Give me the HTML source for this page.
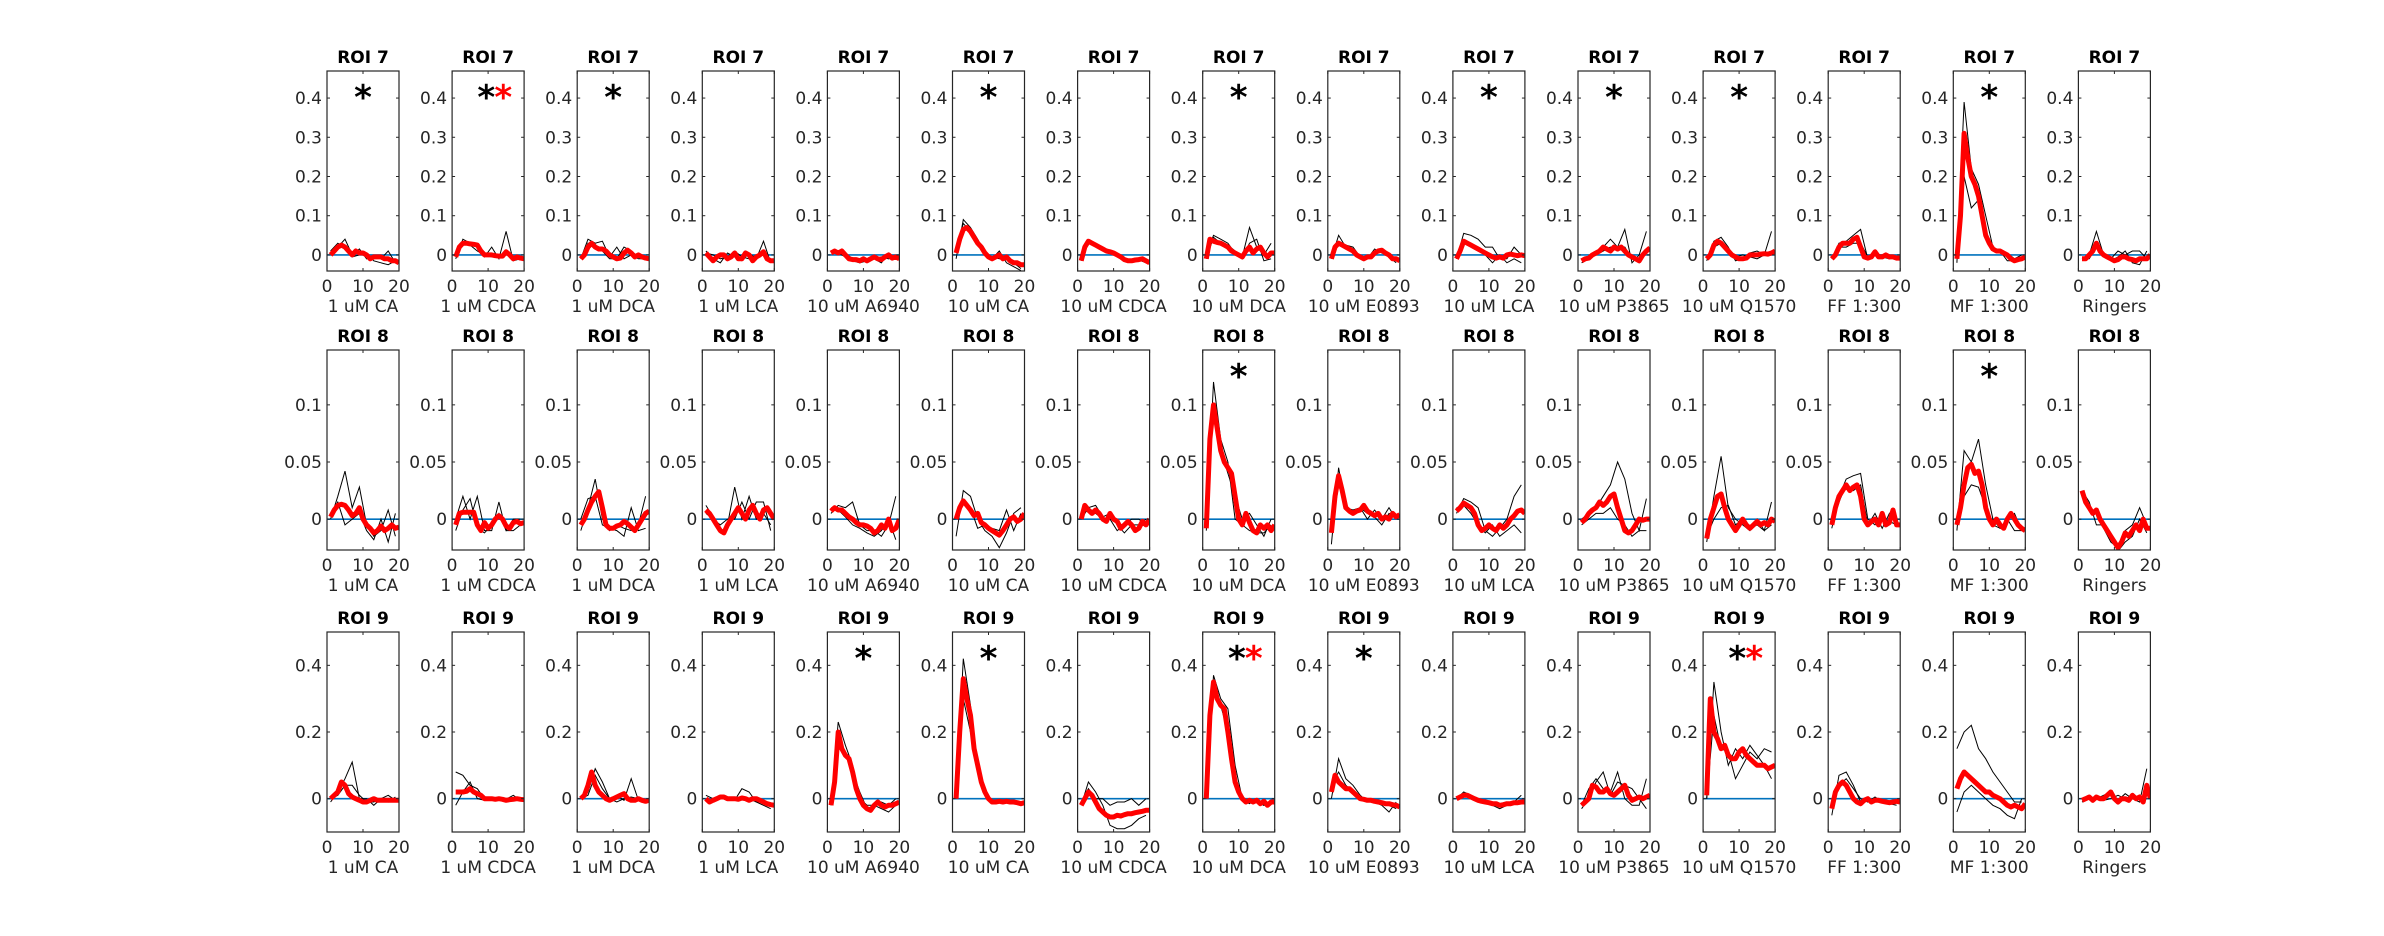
<!DOCTYPE html>
<html><head><meta charset="utf-8"><style>
html,body{margin:0;padding:0;background:#fff;}
svg{display:block;font-family:"DejaVu Sans","Liberation Sans",sans-serif;}
</style></head><body>
<svg id="fig" width="2384" height="936" viewBox="0 0 2384 936" xmlns="http://www.w3.org/2000/svg"></svg>
<script>
const conditions = ["1 uM CA","1 uM CDCA","1 uM DCA","1 uM LCA","10 uM A6940","10 uM CA","10 uM CDCA","10 uM DCA","10 uM E0893","10 uM LCA","10 uM P3865","10 uM Q1570","FF 1:300","MF 1:300","Ringers"];
const roiNames = ["ROI 7","ROI 8","ROI 9"];
const yTicks = [[0,0.1,0.2,0.3,0.4],[0,0.05,0.1],[0,0.2,0.4]];
const yTickLabels = [["0","0.1","0.2","0.3","0.4"],["0","0.05","0.1"],["0","0.2","0.4"]];
const xTicks = [0,10,20];
const blackStars = [[0,1,2,5,7,9,10,11,13],[7,13],[4,5,7,8,11]];
const redStars = [[1],[],[7,11]];

const redRoi7 = [
[0,.01,.02,.025,.02,.01,0,.01,.005,.005,0,-.01,-.005,-.005,-.005,-.01,-.01,-.015,-.015,-.02],
[-.005,.02,.03,.03,.028,.027,.025,.01,0,0,0,-.002,-.003,-.003,.008,0,-.01,-.005,-.008,-.01],
[-.01,0,.02,.03,.02,.015,.015,.01,0,-.005,-.01,-.008,.005,.012,.005,-.005,0,-.005,-.008,-.01],
[.005,-.005,-.015,-.005,0,0,-.01,-.005,.005,-.01,-.01,.005,0,-.015,-.005,0,.008,-.01,-.015,-.015],
[.005,.01,.005,.01,0,-.01,-.012,-.012,-.015,-.01,-.015,-.01,-.005,-.01,-.012,-.005,0,-.008,-.005,-.01],
[.005,.04,.065,.07,.06,.045,.03,.02,.005,-.005,-.01,-.005,0,-.01,-.005,-.015,-.02,-.02,-.025,-.025],
[-.015,.02,.035,.03,.025,.02,.015,.01,.008,.005,0,-.005,-.012,-.015,-.015,-.013,-.012,-.01,-.015,-.02],
[-.01,.04,.035,.032,.03,.025,.02,.01,.005,0,-.005,.01,.02,.005,.015,.02,.005,-.005,.005,.005],
[-.01,.02,.03,.025,.02,.015,.01,0,-.005,-.01,-.005,-.005,.005,.01,.012,.005,0,-.01,-.01,-.015],
[-.01,.01,.035,.03,.025,.02,.015,.01,.005,0,-.005,-.008,-.005,-.008,0,.002,0,-.002,0,-.002],
[-.015,-.01,-.008,0,.005,.01,.02,.015,.01,.02,.015,.02,.01,0,-.005,-.01,-.015,0,.01,.018],
[-.01,0,.025,.035,.03,.02,.01,0,-.005,-.01,-.01,-.008,0,0,0,.002,.003,.002,.005,.01],
[-.01,0,.02,.03,.03,.03,.04,.045,.02,-.005,-.008,-.005,.008,-.005,-.005,0,-.005,-.005,-.008,-.008],
[-.01,.1,.31,.25,.2,.18,.15,.1,.05,.03,.015,.01,.01,.005,0,-.01,-.015,-.012,-.01,-.005],
[-.01,-.01,0,.01,.03,.01,0,-.005,-.01,-.015,-.012,-.005,-.005,-.01,-.012,-.015,-.01,-.01,-.01,0]];
const redRoi8 = [
[.002,.008,.012,.013,.012,.008,.003,.005,.01,0,-.005,-.008,-.012,-.01,-.006,-.01,-.008,-.005,-.008,-.007],
[-.005,.005,.006,.006,.006,.006,-.005,-.01,-.003,-.008,-.005,0,.003,0,-.006,-.008,-.003,-.002,-.004,-.003],
[-.005,0,.008,.015,.02,.024,.01,-.005,-.008,-.008,-.006,-.005,-.002,-.004,-.007,-.01,-.005,0,.005,.007],
[.008,.005,0,-.005,-.01,-.012,-.005,0,.005,.01,.005,0,.008,.012,.005,0,.008,.01,.005,0],
[.007,.01,.008,.008,.005,.002,0,-.003,-.005,-.005,-.006,-.008,-.012,-.01,-.005,-.008,0,-.01,-.008,0],
[0,.01,.016,.012,.008,.003,.005,-.003,-.005,-.008,-.01,-.012,-.014,-.01,-.005,0,.002,-.002,0,.005],
[0,.012,.008,.005,.008,.005,0,-.002,.005,0,-.002,-.008,-.005,-.002,-.005,-.01,-.008,-.002,-.005,0],
[-.008,.07,.1,.08,.06,.05,.045,.04,.02,0,-.005,.005,-.003,-.01,-.012,-.005,-.008,-.005,-.01,-.005],
[-.012,.02,.038,.025,.01,.007,.005,.007,.008,.012,.007,.005,.003,.005,0,.002,0,.005,.002,.004],
[.007,.01,.014,.012,.01,.005,-.005,-.01,-.008,-.005,-.008,-.01,-.005,-.008,-.005,0,.003,.007,.008,.005],
[-.003,0,.005,.008,.01,.015,.012,.015,.02,.022,.01,0,-.01,-.012,-.01,-.005,0,-.001,0,0],
[-.017,0,.01,.02,.022,.01,0,-.005,-.01,-.005,0,-.005,-.008,-.005,-.002,-.005,-.003,-.005,0,-.002],
[-.005,.01,.02,.025,.03,.025,.028,.03,.02,0,-.005,-.002,0,-.005,.005,-.005,-.003,.008,-.005,-.005],
[-.005,.01,.03,.045,.048,.04,.042,.03,.01,0,-.005,0,-.005,-.008,0,.005,0,-.005,-.008,-.01],
[.025,.015,.01,.005,.008,0,-.005,-.01,-.015,-.02,-.025,-.02,-.012,-.015,-.01,-.005,-.01,0,-.008,-.008]];
const redRoi9 = [
[0,.01,.02,.05,.04,.015,.005,0,-.005,-.01,-.01,-.005,0,-.005,-.005,-.005,-.005,-.005,-.005,-.005],
[.02,.02,.02,.022,.03,.02,.015,.01,0,0,0,-.002,0,-.002,-.005,-.003,-.002,0,-.002,-.003],
[0,.01,.04,.08,.04,.02,.01,0,-.005,0,.005,.01,.015,0,-.005,-.005,0,-.005,-.008,-.005],
[0,-.01,-.005,0,.005,.005,0,0,0,-.002,.002,0,-.005,0,0,-.005,-.01,-.015,-.018,-.02],
[-.02,.05,.2,.15,.13,.12,.08,.03,0,-.02,-.03,-.035,-.02,-.01,-.02,-.025,-.02,-.02,-.015,-.01],
[0,.2,.36,.3,.25,.15,.1,.05,.02,0,-.01,-.01,-.008,-.01,-.008,-.01,-.01,-.012,-.015,-.012],
[-.02,0,.02,.01,-.01,-.03,-.04,-.05,-.055,-.055,-.05,-.052,-.048,-.045,-.045,-.042,-.04,-.038,-.035,-.035],
[0,.25,.35,.3,.28,.27,.2,.12,.05,.02,0,-.01,-.005,-.01,-.005,-.015,-.008,-.02,-.01,-.01],
[.02,.07,.05,.04,.03,.03,.02,.01,0,-.002,-.005,-.005,-.008,-.01,-.012,-.015,-.015,-.018,-.02,-.025],
[0,.005,.01,.01,.005,0,-.005,-.008,-.01,-.012,-.015,-.015,-.02,-.018,-.015,-.015,-.012,-.012,-.01,-.01],
[-.02,-.01,0,.04,.035,.02,.02,.03,.015,.01,.02,.03,.04,.01,-.005,0,.005,0,.005,.01],
[.01,.3,.2,.18,.15,.16,.13,.12,.12,.14,.15,.13,.12,.11,.1,.1,.1,.09,.095,.1],
[-.03,.02,.04,.05,.04,.02,0,-.01,-.015,-.005,0,-.01,-.005,-.005,-.008,-.01,-.012,-.01,-.008,-.01],
[.03,.06,.08,.07,.06,.05,.04,.03,.02,.02,.01,.005,0,-.01,-.02,-.025,-.02,-.025,-.03,-.015],
[-.005,0,.005,-.005,.005,0,0,.01,.02,0,-.01,0,0,-.005,.01,0,.005,-.01,.04,0]];

const blackRoi7 = [
[[0,.02,.04,0,.015,-.01,0,-.01,.01,-.02],[.01,.03,.02,-.005,0,.005,-.015,-.02,-.025,-.015]],
[[-.01,.04,.03,.02,-.005,.02,-.01,.06,-.015,-.01],[-.005,.03,.025,.01,0,-.005,-.005,.01,-.01,-.01]],
[[-.01,.04,.03,.035,-.005,.02,-.01,0,-.01,-.01],[-.01,.03,.02,.01,-.01,-.01,.02,.01,-.005,-.01]],
[[.01,-.01,-.02,.005,-.005,-.015,.005,-.01,.035,-.02],[.005,0,-.01,-.005,.01,-.005,-.01,0,0,-.01]],
[[.01,.005,-.005,-.015,-.02,-.015,-.01,-.02,.005,-.01],[.01,.005,.005,-.01,-.01,-.012,-.01,-.005,-.01,-.005]],
[[-.01,.09,.07,.04,.005,-.01,.01,-.02,-.03,-.04],[.02,.08,.06,.035,0,-.005,-.01,-.01,-.02,-.035]],
[[-.015,.03,.025,.02,.01,0,-.015,-.015,-.013,-.02],[-.01,.035,.028,.018,.012,.005,-.012,-.016,-.013,-.018]],
[[0,.05,.04,.03,.005,-.005,.07,.02,0,.03],[-.01,.045,.03,.025,.01,-.01,.03,.04,-.015,-.01]],
[[-.01,.05,.02,.015,-.01,-.005,0,.01,-.005,-.02],[-.005,.03,.025,.02,-.005,-.01,.015,.005,0,-.01]],
[[-.01,.055,.05,.04,.02,.02,-.01,-.01,.02,0],[-.01,.03,.02,.01,0,-.02,0,-.02,-.01,-.02]],
[[-.02,-.01,0,.02,.04,.02,.065,-.02,0,.06],[-.01,-.005,0,.01,.02,.01,.02,-.01,-.02,.01]],
[[-.015,.035,.045,.02,-.015,-.01,.005,.01,0,.06],[-.005,.02,.03,.01,-.005,0,-.005,-.01,0,.005]],
[[-.01,.03,.035,.05,.065,-.01,.01,-.005,-.01,-.005],[-.005,.02,.02,.03,.03,-.005,0,0,-.008,-.01]],
[[-.02,.39,.22,.18,.1,.02,.01,-.015,-.015,-.01],[0,.2,.12,.14,.05,.01,.005,.005,-.01,0]],
[[-.01,0,.06,0,-.015,-.005,.01,-.02,-.025,.01],[-.01,-.01,.02,.005,-.01,.01,0,.01,.01,-.01]]];
const blackRoi8 = [
[[0,.02,.042,.01,.028,-.005,-.015,-.01,.008,-.015],[.005,.015,-.005,0,.005,-.01,-.018,0,-.02,.005]],
[[0,.02,0,.02,-.01,-.01,.015,-.01,-.01,-.005],[-.01,.008,.018,-.008,-.012,-.005,.005,-.01,0,0]],
[[-.01,.01,.035,0,-.01,-.005,-.008,-.01,-.005,.02],[0,.018,.02,-.005,-.008,-.01,-.015,.01,-.01,-.008]],
[[.012,.002,-.012,-.005,.028,0,.02,0,.005,-.005],[.005,0,-.005,0,0,.015,0,.015,.015,-.01]],
[[.005,.012,.01,.015,-.005,-.01,-.01,-.015,-.005,.02],[.01,.008,.002,-.005,-.008,-.012,-.015,-.01,0,-.018]],
[[-.015,.025,.02,0,-.01,-.015,-.025,-.012,.005,.01],[.005,.015,.01,-.008,-.005,-.008,-.01,.008,-.01,.005]],
[[0,.01,.012,.002,.005,-.005,-.012,-.005,-.005,0],[0,.01,.005,0,0,-.01,-.005,0,0,-.005]],
[[-.01,.12,.07,.05,0,-.005,-.01,-.012,-.012,-.005],[-.005,.1,.06,.04,.02,0,.005,-.005,-.015,0]],
[[-.022,.045,.01,.008,.01,0,.008,0,.01,0],[-.01,.03,.012,.005,.01,.005,.002,-.005,.005,.002]],
[[.005,.018,.015,.01,-.01,-.015,-.008,0,.02,.03],[.01,.012,.005,-.005,-.012,-.005,-.015,-.01,-.005,-.012]],
[[0,.005,.01,.02,.03,.05,.035,.005,-.01,.018],[-.005,0,.005,.005,.01,0,-.005,-.015,-.01,-.01]],
[[-.02,.02,.055,.01,0,-.005,-.01,0,-.01,.015],[-.015,0,.01,.012,-.005,0,-.008,-.005,-.01,-.005]],
[[-.008,.02,.035,.038,.04,0,-.005,0,-.002,-.005],[-.005,.015,.03,.025,.03,-.005,.005,-.008,.005,-.005]],
[[-.01,.06,.05,.07,.03,0,-.008,0,.005,-.01],[-.005,.02,.03,.028,.01,-.005,-.008,0,-.01,-.01]],
[[.02,.01,.005,-.008,-.02,-.025,-.01,-.005,.01,-.005],[.025,.015,-.005,-.005,-.015,-.028,-.02,-.015,0,-.012]]];
const blackRoi9 = [
[[-.01,.02,.06,.11,0,0,-.02,0,-.01,.005],[0,.01,.04,.04,.01,-.01,-.01,0,.01,-.005]],
[[-.02,.02,.05,0,-.005,0,.005,-.01,0,0],[.08,.07,.04,.03,0,0,.005,-.002,.01,-.005]],
[[0,.02,.09,.05,0,.01,-.005,.06,-.005,-.005],[0,.01,.07,.03,0,-.01,0,.005,0,-.005]],
[[.01,0,.005,0,-.005,.03,.02,-.01,-.02,-.03],[0,-.01,0,0,.005,0,0,-.01,-.01,-.02]],
[[-.02,.23,.16,.1,0,-.02,-.02,-.03,-.04,-.02],[-.02,.18,.14,.08,.02,-.03,-.02,-.01,-.02,0]],
[[0,.42,.28,.1,.02,-.01,-.01,-.01,-.01,-.015],[0,.3,.2,.08,.01,-.005,-.01,-.008,-.012,-.015]],
[[-.02,.05,.02,-.02,-.08,-.09,-.09,-.08,-.06,-.05],[-.01,.03,0,0,-.02,-.01,-.01,0,-.02,0]],
[[0,.37,.3,.27,.1,0,-.01,-.01,-.02,-.01],[0,.35,.28,.2,.06,-.005,-.015,0,-.02,-.005]],
[[0,.12,.06,.04,.01,-.01,-.01,-.02,-.04,-.01],[.04,.08,.04,.02,0,0,-.005,-.015,-.02,-.03]],
[[0,.02,.01,0,-.01,-.02,-.03,-.02,-.01,.01],[0,.01,.005,-.01,-.012,-.015,-.018,-.015,-.01,-.015]],
[[-.02,.03,.06,.03,.02,.08,0,-.02,-.02,.06],[-.03,0,.05,.08,.01,.05,.04,.03,0,-.03]],
[[0,.35,.2,.1,.15,.12,.16,.13,.1,.06],[0,.25,.15,.14,.06,.1,.14,.12,.15,.14]],
[[-.05,.07,.08,.04,-.01,0,-.005,-.01,-.01,-.01],[-.02,.04,.06,.03,0,-.01,.005,-.01,-.015,-.02]],
[[.15,.2,.22,.15,.12,.08,.05,.02,-.01,-.01],[-.04,.02,.04,.02,0,-.02,-.03,-.05,-.06,0]],
[[0,.005,0,.01,.02,-.005,.015,0,-.01,.09],[-.01,0,.005,-.005,0,.01,0,.01,0,0]]];

const redData = [redRoi7, redRoi8, redRoi9];
const blackData = [blackRoi7, blackRoi8, blackRoi9];

const NS = "http://www.w3.org/2000/svg";
const svg = document.getElementById('fig');
const colLeft0 = 327, colStep = 125.1, pw = 72, ph = 200;
const rowTop = [71, 350, 632];
const yLims = [[-0.041, 0.469], [-0.027, 0.148], [-0.1, 0.5]];
const xLim = [0, 20];
function mk(tag, attrs, parent) {
  const e = document.createElementNS(NS, tag);
  for (const k in attrs) e.setAttribute(k, attrs[k]);
  (parent || svg).appendChild(e);
  return e;
}
function pathFrom(xs, ys, sx, sy) {
  return xs.map((x, i) => (i ? 'L' : 'M') + sx(x).toFixed(1) + ' ' + sy(ys[i]).toFixed(1)).join(' ');
}
for (let r = 0; r < 3; r++) {
  for (let c = 0; c < conditions.length; c++) {
    const L = colLeft0 + c * colStep, T = rowTop[r];
    const [y0, y1] = yLims[r];
    const sx = v => L + (v - xLim[0]) / (xLim[1] - xLim[0]) * pw;
    const sy = v => T + ph - (v - y0) / (y1 - y0) * ph;
    const g = mk('g', {});
    
    
    const clipId = 'clip' + r + '_' + c;
    const cp = mk('clipPath', { id: clipId }, g);
    mk('rect', { x: L, y: T, width: pw, height: ph }, cp);
    const t = mk('text', { x: L + pw / 2, y: T - 8, 'text-anchor': 'middle', 'font-size': 17, 'font-weight': 'bold', fill: '#000' }, g);
    t.textContent = roiNames[r];
    
    
    const dg = mk('g', { 'clip-path': 'url(#' + clipId + ')' }, g);
    const bl = mk('line', { x1: L, x2: L + pw, y1: sy(0), y2: sy(0), stroke: '#0072BD', 'stroke-width': 1.6 }, dg);
    
    
    const bxs = [1, 3, 5, 7, 9, 11, 13, 15, 17, 19];
    blackData[r][c].forEach(tr => {
      const p = mk('path', { d: pathFrom(bxs, tr, sx, sy), fill: 'none', stroke: '#000', 'stroke-width': 1 }, dg);
      
      
    });
    const rxs = redData[r][c].map((_, i) => i + 1);
    const rp = mk('path', { d: pathFrom(rxs, redData[r][c], sx, sy), fill: 'none', stroke: '#ff0000', 'stroke-width': 5, 'stroke-linejoin': 'round' }, dg);
    
    
    const box = mk('rect', { x: L, y: T, width: pw, height: ph, fill: 'none', stroke: '#262626', 'stroke-width': 1.2 }, g);
    
    
    yTicks[r].forEach((v, i) => {
      const y = sy(v);
      mk('line', { x1: L, x2: L + 3, y1: y, y2: y, stroke: '#262626' }, g);
      mk('line', { x1: L + pw - 3, x2: L + pw, y1: y, y2: y, stroke: '#262626' }, g);
      const tl = mk('text', { x: L - 5, y: y + 6, 'text-anchor': 'end', 'font-size': 17, fill: '#262626' }, g);
      tl.textContent = yTickLabels[r][i];
      
      
    });
    xTicks.forEach(v => {
      const x = sx(v);
      mk('line', { x1: x, x2: x, y1: T + ph, y2: T + ph - 3, stroke: '#262626' }, g);
      mk('line', { x1: x, x2: x, y1: T, y2: T + 3, stroke: '#262626' }, g);
      const tl = mk('text', { x: x, y: T + ph + 21, 'text-anchor': 'middle', 'font-size': 17, fill: '#262626' }, g);
      tl.textContent = String(v);
      
      
    });
    const xl = mk('text', { x: L + pw / 2, y: T + ph + 41, 'text-anchor': 'middle', 'font-size': 17, fill: '#262626' }, g);
    xl.textContent = conditions[c];
    
    
    const hasRed = redStars[r].includes(c);
    if (blackStars[r].includes(c)) {
      const s = mk('text', { x: sx(hasRed ? 9.5 : 10), y: T + 38, 'text-anchor': 'middle', 'font-size': 34, 'font-weight': 'bold', fill: '#000' }, g);
      s.textContent = '*';
      
      
    }
    if (hasRed) {
      const s = mk('text', { x: sx(14.2), y: T + 38, 'text-anchor': 'middle', 'font-size': 34, 'font-weight': 'bold', fill: '#ff0000' }, g);
      s.textContent = '*';
      
      
    }
  }
}
</script>
</body></html>
